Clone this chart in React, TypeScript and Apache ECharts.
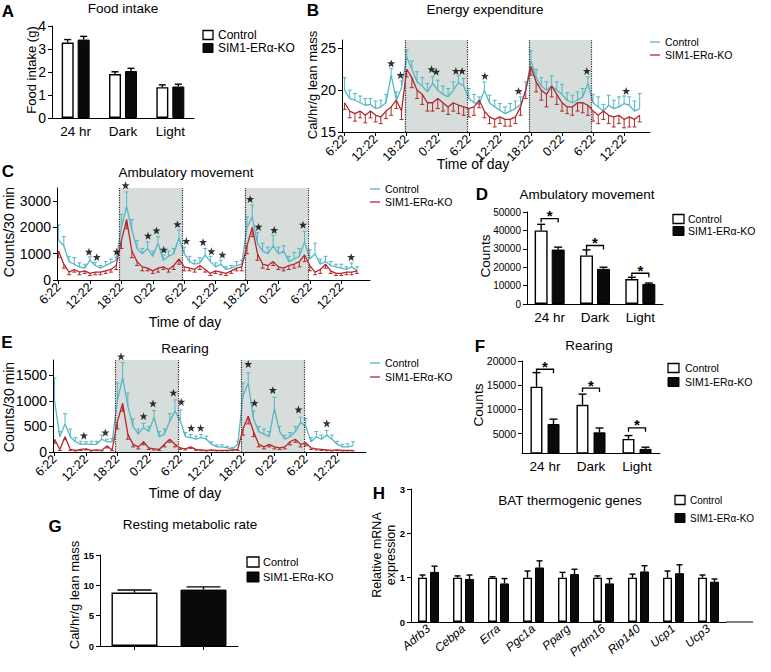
import React, { useEffect, useRef } from 'react';
import * as echarts from 'echarts';

const FONT = '"Liberation Sans", Arial, Helvetica, sans-serif';
const CTRL_COLOR = '#55b6c4';
const KO_COLOR = '#b3282d';
const SHADE_COLOR = '#d6dddb';
const STAR = 'path://M12,0 L15,8.5 L24,8.5 L17,14 L19.5,23 L12,17.5 L4.5,23 L7,14 L0,8.5 L9,8.5 Z';

// ---------- A: Food intake ----------
const periodCats = ['24 hr', 'Dark', 'Light'];
const foodCtrl = [3.28, 1.91, 1.34];
const foodCtrlErr = [0.13, 0.1, 0.1];
const foodKo = [3.41, 2.04, 1.37];
const foodKoErr = [0.14, 0.12, 0.1];

// ---------- time axis shared ----------
const timeTickHours = [0, 6, 12, 18, 24, 30, 36, 42, 48, 54];
const timeTickLabels = ['6:22', '12:22', '18:22', '0:22', '6:22', '12:22', '18:22', '0:22', '6:22', '12:22'];
const darkPhases = [[11.63, 23.63], [35.63, 47.63]];

// ---------- B: Energy expenditure ----------
const eeCtrl = [20.0, 19.0, 18.8, 18.5, 18.2, 18.3, 17.8, 18.0, 18.5, 21.8, 18.8, 20.3,
  24.0, 22.5, 21.0, 20.5, 19.8, 20.8, 20.0, 19.5, 19.2, 20.0, 20.9, 20.5,
  19.0, 18.5, 18.3, 20.0, 18.5, 18.0, 17.6, 17.2, 17.5, 17.8, 18.3, 20.0,
  23.5, 21.5, 20.5, 20.0, 20.5, 20.0, 19.5, 18.8, 18.5, 18.8, 19.2, 20.8,
  18.5, 18.0, 17.5, 18.2, 17.8, 18.0, 18.4, 18.2, 17.5, 17.8];
const eeCtrlErr = [1.5, 1.0, 0.8, 0.8, 0.8, 0.7, 0.9, 0.8, 1.0, 0.8, 1.0, 0.8,
  0.8, 1.0, 1.2, 1.0, 1.0, 0.8, 1.2, 1.0, 1.0, 1.0, 0.8, 0.9,
  1.2, 1.0, 0.9, 1.0, 0.9, 0.8, 0.8, 0.8, 0.9, 0.9, 0.9, 1.0,
  1.2, 1.0, 1.0, 1.0, 1.2, 1.0, 1.2, 0.9, 0.9, 1.0, 1.0, 0.8,
  1.0, 1.2, 0.8, 1.2, 1.0, 1.2, 0.9, 1.0, 1.2, 1.8];
const eeKo = [18.5, 17.5, 17.2, 17.5, 17.0, 17.5, 17.0, 16.8, 17.5, 18.0, 18.8, 17.5,
  22.5, 21.5, 20.0, 19.5, 18.5, 18.5, 19.0, 18.5, 18.0, 18.5, 18.2, 18.0,
  17.8, 18.0, 18.8, 17.5, 16.8, 16.5, 16.8, 16.5, 16.5, 16.8, 18.0, 20.0,
  22.8, 21.0, 20.0, 19.5, 20.5, 19.5, 18.5, 18.0, 18.0, 18.5, 18.5, 18.2,
  17.5, 17.0, 17.5, 17.0, 16.8, 17.0, 16.5, 16.8, 16.5, 17.0];
const eeKoErr = [0.8, 0.8, 0.9, 0.8, 0.9, 0.8, 0.8, 0.8, 0.9, 1.0, 1.0, 1.0,
  0.9, 1.2, 1.0, 1.2, 1.0, 1.0, 1.2, 1.0, 0.9, 1.0, 1.0, 1.0,
  1.0, 1.0, 0.9, 0.8, 0.8, 0.9, 0.8, 0.8, 0.8, 0.8, 1.0, 1.0,
  1.0, 1.2, 1.2, 1.5, 1.3, 1.2, 1.0, 0.8, 1.0, 1.0, 1.2, 1.2,
  1.2, 1.0, 1.0, 1.0, 1.2, 1.0, 1.0, 1.2, 0.9, 0.8];
const eeStars = [[9.0, 23.2], [10.8, 21.8], [16.8, 22.5], [17.7, 22.2], [21.5, 22.3], [22.7, 22.3],
  [27.1, 21.7], [33.6, 19.9], [46.8, 22.3], [54.4, 19.9]];

// ---------- C: Ambulatory movement (time course) ----------
const ambCtrl = [1500, 1300, 700, 600, 500, 450, 750, 550, 450, 550, 650, 750,
  2000, 2800, 1900, 1200, 1000, 1200, 900, 1400, 750, 900, 1000, 1600,
  1000, 700, 600, 650, 950, 700, 500, 600, 400, 450, 550, 600,
  2000, 2400, 1400, 1100, 1000, 1300, 1000, 1100, 700, 800, 900, 1450,
  800, 1000, 600, 700, 550, 500, 450, 400, 500, 350];
const ambCtrlErr = [600, 350, 200, 250, 150, 150, 130, 120, 100, 150, 150, 120,
  500, 550, 400, 300, 200, 250, 200, 250, 200, 200, 200, 300,
  250, 200, 150, 200, 250, 200, 150, 150, 100, 100, 150, 150,
  400, 450, 400, 300, 250, 400, 250, 200, 200, 250, 300, 400,
  350, 400, 200, 200, 150, 100, 150, 100, 150, 150];
const ambKo = [1100, 600, 300, 400, 300, 350, 250, 300, 300, 350, 400, 550,
  1500, 2300, 1100, 700, 500, 450, 350, 450, 500, 400, 550, 800,
  500, 450, 400, 550, 400, 250, 350, 300, 250, 350, 450, 500,
  1300, 2000, 1000, 600, 550, 700, 500, 450, 550, 600, 700, 950,
  550, 300, 400, 600, 350, 250, 250, 300, 300, 350];
const ambKoErr = [250, 150, 100, 100, 100, 100, 80, 100, 100, 100, 100, 150,
  300, 350, 250, 150, 150, 100, 100, 150, 100, 100, 150, 200,
  150, 100, 100, 150, 100, 80, 100, 100, 80, 100, 100, 150,
  300, 350, 250, 150, 150, 150, 100, 100, 150, 150, 200, 250,
  200, 100, 150, 150, 100, 80, 80, 100, 100, 100];
const ambStars = [[5.8, 1070], [7.3, 870], [11.1, 1070], [12.8, 3600], [17.1, 1680], [18.7, 1880],
  [20.1, 1150], [22.7, 2120], [24.4, 1480], [27.6, 1440], [29.2, 1090], [31.3, 960],
  [36.6, 3080], [38.2, 2020], [41.2, 1900], [46.7, 2100], [55.9, 870]];

// ---------- D: Ambulatory movement totals ----------
const ambTotCtrl = [40000, 26400, 13600];
const ambTotCtrlErr = [3300, 3000, 900];
const ambTotKo = [29600, 19100, 10900];
const ambTotKoErr = [1300, 900, 500];
const ambSig = [46400, 31800, 16700];

// ---------- E: Rearing (time course) ----------
const rearCtrl = [1000, 300, 550, 300, 200, 150, 160, 150, 150, 250, 200, 200,
  1000, 1450, 900, 500, 350, 480, 400, 680, 300, 350, 600, 800,
  620, 300, 280, 250, 280, 250, 150, 100, 100, 80, 60, 150,
  1100, 1350, 650, 400, 350, 300, 850, 400, 250, 300, 400, 580,
  500, 200, 300, 250, 330, 250, 150, 100, 100, 120];
const rearCtrlErr = [450, 100, 200, 150, 80, 60, 40, 60, 60, 80, 50, 60,
  350, 300, 250, 150, 100, 80, 100, 130, 100, 100, 150, 220,
  200, 80, 60, 60, 60, 60, 50, 40, 40, 30, 30, 60,
  250, 200, 150, 100, 100, 100, 220, 100, 80, 80, 100, 100,
  150, 80, 100, 80, 90, 80, 60, 50, 60, 80];
const rearKo = [250, 50, 300, 50, 30, 50, 60, 30, 40, 30, 120, 40,
  600, 950, 350, 150, 100, 200, 80, 60, 50, 150, 250, 150,
  80, 60, 100, 50, 40, 30, 40, 30, 30, 30, 40, 50,
  450, 700, 400, 150, 100, 150, 100, 80, 100, 200, 250, 150,
  180, 80, 60, 50, 40, 30, 40, 30, 30, 30];
const rearKoErr = [80, 20, 60, 20, 10, 20, 20, 10, 15, 10, 40, 15,
  150, 150, 100, 50, 40, 60, 30, 20, 20, 50, 60, 50,
  30, 20, 30, 20, 15, 10, 15, 10, 10, 10, 15, 20,
  120, 150, 100, 50, 40, 50, 40, 30, 40, 60, 60, 50,
  60, 30, 20, 20, 15, 10, 15, 10, 10, 10];
const rearStars = [[5.6, 320], [9.7, 380], [12.7, 1870], [17.0, 700], [18.8, 950], [22.7, 1160],
  [24.2, 980], [26.1, 470], [27.9, 470], [37.0, 1720], [38.2, 960], [41.7, 1210], [46.6, 830], [52.0, 560]];

// ---------- F: Rearing totals ----------
const rearTotCtrl = [14700, 10960, 3900];
const rearTotCtrlErr = [2900, 2200, 700];
const rearTotKo = [6990, 5270, 1850];
const rearTotKoErr = [1000, 900, 350];
const rearSig = [18300, 14400, 6200];

// ---------- G: Resting metabolic rate ----------
const rmrGroups = ['Control', 'SIM1-ERα-KO'];
const rmrValues = [8.8, 9.3];
const rmrErr = [0.42, 0.44];

// ---------- H: BAT thermogenic genes ----------
const genes = ['Adrb3', 'Cebpa', 'Erra', 'Pgc1a', 'Pparg', 'Prdm16', 'Rip140', 'Ucp1', 'Ucp3'];
const geneCtrl = [1.0, 1.0, 1.0, 1.0, 1.0, 1.0, 1.0, 1.0, 1.0];
const geneCtrlErr = [0.06, 0.04, 0.02, 0.15, 0.12, 0.04, 0.08, 0.15, 0.06];
const geneKo = [1.13, 0.97, 0.87, 1.23, 1.08, 0.87, 1.14, 1.1, 0.91];
const geneKoErr = [0.13, 0.09, 0.11, 0.15, 0.11, 0.11, 0.13, 0.19, 0.06];

function errItem(dir: number, color: string, cap: number, offset: number, lw: number) {
  return (_params: any, api: any) => {
    const x = api.value(0);
    const v = api.value(1);
    const e = api.value(2);
    const a = api.coord([x, v]);
    const b = api.coord([x, v + dir * e]);
    const px = a[0] + offset;
    return {
      type: 'group',
      children: [
        { type: 'line', shape: { x1: px, y1: a[1], x2: px, y2: b[1] }, style: { stroke: color, lineWidth: lw } },
        { type: 'line', shape: { x1: px - cap, y1: b[1], x2: px + cap, y2: b[1] }, style: { stroke: color, lineWidth: lw } },
      ],
    };
  };
}

function sigItem(half: number) {
  return (_params: any, api: any) => {
    const c = api.coord([api.value(0), api.value(1)]);
    const l = c[0] - half;
    const r = c[0] + half;
    const y = c[1];
    return {
      type: 'group',
      children: [
        { type: 'polyline', shape: { points: [[l, y + 4], [l, y], [r, y], [r, y + 4]] }, style: { stroke: '#000', lineWidth: 1.3, fill: 'none' } },
        { type: 'text', x: c[0], y: y - 3, style: { text: '*', fill: '#000', font: 'bold 15px ' + FONT, align: 'center', verticalAlign: 'middle' } },
      ],
    };
  };
}

function base(gi: number) {
  return {
    gridIndex: gi,
    z: 10,
    axisLine: { show: true, onZero: false, lineStyle: { color: '#000', width: 1 } },
    splitLine: { show: false },
  };
}

function valY(gi: number, min: number, max: number, ticks: number[], fontSize: number, bold = false) {
  return {
    ...base(gi),
    type: 'value',
    min,
    max,
    axisTick: { show: true, length: 4, customValues: ticks, lineStyle: { color: '#000' } },
    axisLabel: {
      customValues: ticks,
      formatter: (v: number) => String(v),
      color: '#000',
      fontFamily: FONT,
      fontSize,
      fontWeight: bold ? 'bold' : 'normal',
      margin: 6,
    },
  };
}

function catX(gi: number, data: string[], fontSize: number, extra: any = {}, tick: any = { show: false }) {
  return {
    ...base(gi),
    type: 'category',
    data,
    axisTick: tick,
    axisLabel: { color: '#000', fontFamily: FONT, fontSize, margin: 6, interval: 0, ...extra },
  };
}

function timeX(gi: number, min: number, max: number) {
  return {
    ...base(gi),
    type: 'value',
    min,
    max,
    axisTick: { show: true, length: 4, customValues: timeTickHours, lineStyle: { color: '#000' } },
    axisLabel: {
      customValues: timeTickHours,
      formatter: (v: number) => {
        const k = timeTickHours.indexOf(Math.round(v));
        return k >= 0 ? timeTickLabels[k] : '';
      },
      rotate: 45,
      fontSize: 12.5,
      color: '#000',
      fontFamily: FONT,
      margin: 5,
    },
  };
}

function timeSeries(gi: number, ctrl: number[], ctrlErr: number[], ko: number[], koErr: number[], stars: number[][]) {
  const cData = ctrl.map((v, k) => [k, v, ctrlErr[k]]);
  const kData = ko.map((v, k) => [k, v, koErr[k]]);
  const common = { xAxisIndex: gi, yAxisIndex: gi, silent: true };
  return [
    {
      ...common,
      type: 'line',
      data: [],
      z: 1,
      markArea: {
        silent: true,
        itemStyle: { color: SHADE_COLOR },
        data: darkPhases.map(([a, b]) => [{ xAxis: a }, { xAxis: b }]),
      },
      markLine: {
        silent: true,
        symbol: ['none', 'none'],
        label: { show: false },
        lineStyle: { color: '#222', type: 'dotted', width: 1.2 },
        data: darkPhases.flat().map((x) => ({ xAxis: x })),
      },
    },
    { ...common, type: 'custom', data: cData, encode: { x: 0, y: 1 }, renderItem: errItem(1, CTRL_COLOR, 2, 0, 1), z: 2, clip: true },
    { ...common, type: 'line', data: cData.map((d) => [d[0], d[1]]), showSymbol: false, symbol: 'none', lineStyle: { color: CTRL_COLOR, width: 1.3 }, z: 3 },
    { ...common, type: 'custom', data: kData, encode: { x: 0, y: 1 }, renderItem: errItem(-1, KO_COLOR, 2, 0, 1), z: 4, clip: true },
    { ...common, type: 'line', data: kData.map((d) => [d[0], d[1]]), showSymbol: false, symbol: 'none', lineStyle: { color: KO_COLOR, width: 1.3 }, z: 5 },
    { ...common, type: 'scatter', data: stars, symbol: STAR, symbolSize: 8, itemStyle: { color: '#000' }, z: 6, clip: false },
  ];
}

function barSeries(gi: number, ctrl: any[], ctrlErr: number[], ko: any[], koErr: number[], bw: number, gap: string, off: number, cap: number) {
  const common = { xAxisIndex: gi, yAxisIndex: gi, silent: true };
  const cErr = ctrl.map((v, k) => [k, v, ctrlErr[k]]).filter((d) => typeof d[1] === 'number');
  const kErr = ko.map((v, k) => [k, v, koErr[k]]).filter((d) => typeof d[1] === 'number');
  return [
    { ...common, type: 'bar', data: ctrl, barWidth: bw, barGap: gap, itemStyle: { color: '#fff', borderColor: '#000', borderWidth: 1.4 }, z: 2 },
    { ...common, type: 'bar', data: ko, barWidth: bw, barGap: gap, itemStyle: { color: '#0a0a0a', borderColor: '#000', borderWidth: 1 }, z: 2 },
    { ...common, type: 'custom', data: cErr, encode: { x: 0, y: 1 }, renderItem: errItem(1, '#000', cap, -off, 1.4), z: 3 },
    { ...common, type: 'custom', data: kErr, encode: { x: 0, y: 1 }, renderItem: errItem(1, '#000', cap, off, 1.4), z: 3 },
  ];
}

function text(x: number, y: number, t: string, size: number, opts: any = {}) {
  const { rotation, weight, align, style, ...rest } = opts;
  return {
    type: 'text',
    x,
    y,
    rotation: rotation || 0,
    silent: true,
    style: {
      text: t,
      fill: '#000',
      font: `${style || 'normal'} ${weight || 'normal'} ${size}px ${FONT}`,
      align: align || 'center',
      verticalAlign: 'middle',
      ...rest,
    },
  };
}

function lineLegend(x: number, y1: number, y2: number, size: number, tx: number) {
  return [
    { type: 'line', shape: { x1: x, y1, x2: x + 10, y2: y1 }, style: { stroke: CTRL_COLOR, lineWidth: 1.3 } },
    { type: 'line', shape: { x1: x, y1: y2, x2: x + 10, y2 }, style: { stroke: KO_COLOR, lineWidth: 1.3 } },
    text(tx, y1, 'Control', size, { align: 'left' }),
    text(tx, y2, 'SIM1-ERα-KO', size, { align: 'left' }),
  ];
}

function boxLegend(x: number, y1: number, y2: number, w: number, h: number, size: number, tx: number) {
  return [
    { type: 'rect', shape: { x, y: y1 - h / 2, width: w, height: h }, style: { fill: '#fff', stroke: '#000', lineWidth: 1.3 } },
    { type: 'rect', shape: { x, y: y2 - h / 2, width: w, height: h }, style: { fill: '#0a0a0a', stroke: '#000', lineWidth: 1 } },
    text(tx, y1, 'Control', size, { align: 'left' }),
    text(tx, y2, 'SIM1-ERα-KO', size, { align: 'left' }),
  ];
}

function buildOption() {
  const grids = [
    { left: 52, top: 26, width: 142, height: 92 },
    { left: 342, top: 40, width: 308, height: 92 },
    { left: 57, top: 188, width: 313, height: 92 },
    { left: 527, top: 212, width: 136, height: 92 },
    { left: 53, top: 360, width: 313, height: 92 },
    { left: 522, top: 361, width: 138, height: 92 },
    { left: 100, top: 555, width: 138, height: 91 },
    { left: 411, top: 489, width: 315, height: 133 },
  ];

  const xAxes = [
    catX(0, periodCats, 13.5),
    timeX(1, -0.5, 59),
    timeX(2, -0.3, 59.5),
    catX(3, periodCats, 13.5),
    timeX(4, -0.3, 59.5),
    catX(5, periodCats, 13.5),
    catX(6, rmrGroups, 10, { show: false }, { show: true, alignWithLabel: true, length: 4, interval: 0, lineStyle: { color: '#000' } }),
    catX(7, genes, 12, { rotate: 40, fontStyle: 'italic', margin: 5 }),
  ];

  const yAxes = [
    valY(0, 0, 4, [0, 1, 2, 3, 4], 14),
    valY(1, 15, 26, [15, 20, 25], 14),
    valY(2, 0, 3500, [0, 1000, 2000, 3000], 14),
    valY(3, 0, 50000, [0, 10000, 20000, 30000, 40000, 50000], 10),
    valY(4, 0, 1800, [0, 500, 1000, 1500], 14),
    valY(5, 1000, 20000, [5000, 10000, 15000, 20000], 10.5),
    valY(6, 0, 15, [0, 5, 10, 15], 9.5, true),
    valY(7, 0, 3, [0, 1, 2, 3], 9.5, true),
  ];

  const series: any[] = [
    ...barSeries(0, foodCtrl, foodCtrlErr, foodKo, foodKoErr, 12, '33%', 8, 3.5),
    ...timeSeries(1, eeCtrl, eeCtrlErr, eeKo, eeKoErr, eeStars),
    ...timeSeries(2, ambCtrl, ambCtrlErr, ambKo, ambKoErr, ambStars),
    ...barSeries(3, ambTotCtrl, ambTotCtrlErr, ambTotKo, ambTotKoErr, 13, '31%', 8.5, 4),
    { type: 'custom', xAxisIndex: 3, yAxisIndex: 3, silent: true, data: ambSig.map((v, k) => [k, v]), encode: { x: 0, y: 1 }, renderItem: sigItem(8.5), z: 4 },
    ...timeSeries(4, rearCtrl, rearCtrlErr, rearKo, rearKoErr, rearStars),
    ...barSeries(5, rearTotCtrl, rearTotCtrlErr, rearTotKo, rearTotKoErr, 12, '42%', 8.5, 4),
    { type: 'custom', xAxisIndex: 5, yAxisIndex: 5, silent: true, data: rearSig.map((v, k) => [k, v]), encode: { x: 0, y: 1 }, renderItem: sigItem(8.5), z: 4 },
    ...barSeries(6, [rmrValues[0], '-'], [rmrErr[0], 0], ['-', rmrValues[1]], [0, rmrErr[1]], 46, '-100%', 0, 17),
    ...barSeries(7, geneCtrl, geneCtrlErr, geneKo, geneKoErr, 9, '33%', 6, 3),
  ];

  const graphics: any[] = [
    // panel letters
    text(8, 11, 'A', 17, { weight: 'bold' }),
    text(313, 10, 'B', 17, { weight: 'bold' }),
    text(8, 171, 'C', 17, { weight: 'bold' }),
    text(482, 194, 'D', 17, { weight: 'bold' }),
    text(7, 342, 'E', 17, { weight: 'bold' }),
    text(480, 346, 'F', 17, { weight: 'bold' }),
    text(55, 526, 'G', 17, { weight: 'bold' }),
    text(379, 493, 'H', 17, { weight: 'bold' }),
    // titles
    text(123, 8, 'Food intake', 13.5),
    text(485, 9, 'Energy expenditure', 13.5),
    text(186, 172, 'Ambulatory movement', 13.5),
    text(587, 194, 'Ambulatory movement', 13.5),
    text(185, 348, 'Rearing', 13.5),
    text(589, 345, 'Rearing', 13.5),
    text(190, 524, 'Resting metabolic rate', 13.5),
    text(570, 500, 'BAT thermogenic genes', 13.5),
    // axis names
    text(31, 70, 'Food intake (g)', 13, { rotation: Math.PI / 2 }),
    text(312, 85, 'Cal/hr/g lean mass', 13, { rotation: Math.PI / 2 }),
    text(473, 164, 'Time of day', 14),
    text(9, 232, 'Counts/30 min', 14, { rotation: Math.PI / 2 }),
    text(185, 322, 'Time of day', 14),
    text(485, 256, 'Counts', 13.5, { rotation: Math.PI / 2 }),
    text(9, 407, 'Counts/30 min', 14, { rotation: Math.PI / 2 }),
    text(185, 493, 'Time of day', 14),
    text(478, 405, 'Counts', 13.5, { rotation: Math.PI / 2 }),
    text(74, 595, 'Cal/hr/g lean mass', 13, { rotation: Math.PI / 2 }),
    text(377, 555, 'Relative mRNA', 12.5, { rotation: Math.PI / 2 }),
    text(391, 555, 'expression', 12.5, { rotation: Math.PI / 2 }),
    // axis extension in H
    { type: 'line', shape: { x1: 726, y1: 622, x2: 753, y2: 622 }, style: { stroke: '#000', lineWidth: 1 } },
    // legends
    ...boxLegend(203, 35, 48, 10, 9, 12, 218),
    ...lineLegend(650, 42, 55, 10.5, 665),
    ...lineLegend(370, 189, 202, 10.5, 385),
    ...boxLegend(673, 219, 231, 11, 9, 10.5, 688),
    ...lineLegend(370, 363, 377, 10.5, 385),
    ...boxLegend(668, 368, 382, 11, 9, 10.5, 685),
    ...boxLegend(247, 562, 577, 12, 10, 11, 263),
    ...boxLegend(675, 500, 518, 10, 9, 10, 690),
  ];

  return {
    animation: false,
    backgroundColor: '#fff',
    textStyle: { fontFamily: FONT },
    grid: grids,
    xAxis: xAxes,
    yAxis: yAxes,
    series,
    graphic: { elements: graphics },
  };
}

export default function App() {
  const ref = useRef<HTMLDivElement>(null);
  useEffect(() => {
    if (!ref.current) return;
    const chart = echarts.init(ref.current, null, { renderer: 'svg' });
    chart.setOption(buildOption() as any);
    return () => chart.dispose();
  }, []);
  return (
    <div
      ref={ref}
      style={{ position: 'fixed', left: 0, top: 0, width: 771, height: 672, background: '#fff' }}
    />
  );
}
